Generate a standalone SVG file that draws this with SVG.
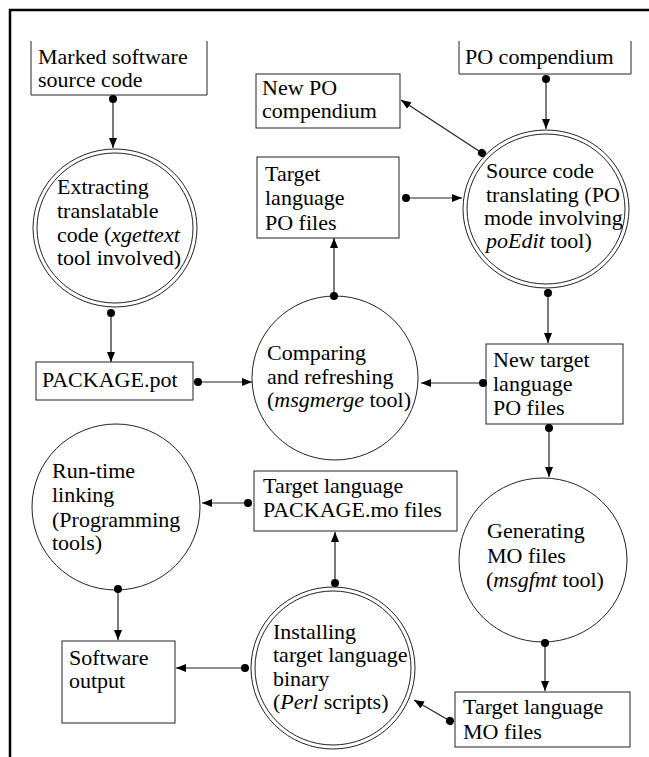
<svg xmlns="http://www.w3.org/2000/svg" width="649" height="757" viewBox="0 0 649 757">
<style>
text{font-size:22px;fill:#000}
.i{font-style:italic}
.box{fill:#fff;stroke:#222;stroke-width:1}
.c{fill:#fff;stroke:#222;stroke-width:1}
.c2{fill:none;stroke:#222;stroke-width:1}
.e{stroke:#222;stroke-width:1.2;fill:none;marker-start:url(#dot);marker-end:url(#arr)}
.frame{stroke:#000;stroke-width:2.5;fill:none}
</style>
<defs>
<marker id="arr" markerUnits="userSpaceOnUse" markerWidth="11" markerHeight="9" refX="10" refY="4" orient="auto">
<path d="M0,0 L10,4 L0,8 z" fill="#000"/>
</marker>
<marker id="dot" markerUnits="userSpaceOnUse" markerWidth="10" markerHeight="10" refX="5" refY="5" orient="auto">
<circle cx="5" cy="5" r="4" fill="#000"/>
</marker>
</defs>
<rect width="649" height="757" fill="#fff"/>
<path class="frame" d="M10,757 V10 H649"/>
<g font-family="Liberation Serif, Times New Roman, DejaVu Serif, serif">
<g id="marked">
<path class="box" d="M31,41 V95 H207 V41"/>
<text x="38" y="64">Marked software</text>
<text x="38" y="87">source code</text>
</g>
<g id="pocomp">
<path class="box" d="M459,41 V74 H631 V41"/>
<text x="465" y="64">PO compendium</text>
</g>
<g id="newpocomp">
<rect class="box" x="256" y="74" width="144" height="54"/>
<text x="262" y="95">New PO</text>
<text x="262" y="118">compendium</text>
</g>
<g id="targetpo">
<rect class="box" x="257" y="157" width="142" height="81"/>
<text x="265" y="181">Target</text>
<text x="265" y="205">language</text>
<text x="265" y="230">PO files</text>
</g>
<g id="pot">
<rect class="box" x="36" y="362" width="157" height="38"/>
<text x="42" y="387">PACKAGE.pot</text>
</g>
<g id="newtarget">
<rect class="box" x="486" y="344" width="137" height="80"/>
<text x="493" y="367">New target</text>
<text x="493" y="391">language</text>
<text x="493" y="415">PO files</text>
</g>
<g id="packmo">
<rect class="box" x="254" y="471" width="203" height="60"/>
<text x="263" y="493">Target language</text>
<text x="263" y="517">PACKAGE.mo files</text>
</g>
<g id="software">
<rect class="box" x="62" y="641" width="113" height="82"/>
<text x="69" y="665">Software</text>
<text x="69" y="688">output</text>
</g>
<g id="mofiles">
<rect class="box" x="455" y="692" width="175" height="55"/>
<text x="463" y="714">Target language</text>
<text x="463" y="739">MO files</text>
</g>

<g id="extracting">
<ellipse class="c" cx="115" cy="228" rx="82" ry="79"/>
<ellipse class="c2" cx="115" cy="228" rx="78" ry="75"/>
<text x="57" y="194">Extracting</text>
<text x="57" y="218">translatable</text>
<text x="57" y="242">code (<tspan class="i">xgettext</tspan></text>
<text x="57" y="265">tool involved)</text>
</g>
<g id="source">
<ellipse class="c" cx="546" cy="209" rx="83" ry="79"/>
<ellipse class="c2" cx="546" cy="209" rx="79" ry="75"/>
<text x="486" y="178">Source code</text>
<text x="486" y="202">translating (PO</text>
<text x="484" y="225">mode involving</text>
<text x="486" y="248"><tspan class="i">poEdit</tspan> tool)</text>
</g>
<g id="comparing">
<ellipse class="c" cx="335" cy="378" rx="83" ry="82"/>
<text x="267" y="360">Comparing</text>
<text x="267" y="384">and refreshing</text>
<text x="267" y="407">(<tspan class="i">msgmerge</tspan> tool)</text>
</g>
<g id="generating">
<ellipse class="c" cx="543" cy="560" rx="84" ry="82"/>
<text x="487" y="538">Generating</text>
<text x="487" y="563">MO files</text>
<text x="486" y="587">(<tspan class="i">msgfmt</tspan> tool)</text>
</g>
<g id="runtime">
<ellipse class="c" cx="116" cy="507" rx="84" ry="83"/>
<text x="52" y="478">Run-time</text>
<text x="52" y="502">linking</text>
<text x="52" y="527">(Programming</text>
<text x="52" y="550">tools)</text>
</g>
<g id="installing">
<ellipse class="c" cx="333" cy="668" rx="82" ry="81"/>
<ellipse class="c2" cx="333" cy="668" rx="78" ry="77"/>
<text x="273" y="639">Installing</text>
<text x="273" y="662">target language</text>
<text x="273" y="686">binary</text>
<text x="273" y="709">(<tspan class="i">Perl</tspan> scripts)</text>
</g>
</g>
<g id="connectors">
<path class="e" d="M113,99 L113,148"/>
<path class="e" d="M111,313 L111,362"/>
<path class="e" d="M198,382 L252,382"/>
<path class="e" d="M334,296 L334,238"/>
<path class="e" d="M406,198 L462,198"/>
<path class="e" d="M546,79 L546,129"/>
<path class="e" d="M482,153 L401,100"/>
<path class="e" d="M548,293 L548,343"/>
<path class="e" d="M483,383 L421,383"/>
<path class="e" d="M549,428 L549,477"/>
<path class="e" d="M545,643 L545,691"/>
<path class="e" d="M450,721 L414,700"/>
<path class="e" d="M335,583 L335,532"/>
<path class="e" d="M248,503 L202,503"/>
<path class="e" d="M118,589 L118,640"/>
<path class="e" d="M245,668 L176,668"/>
</g>
</svg>
